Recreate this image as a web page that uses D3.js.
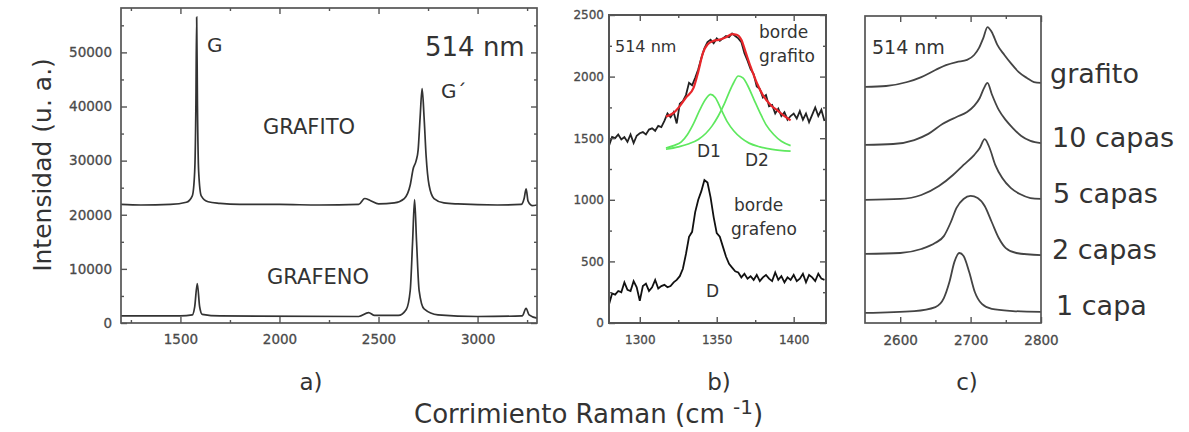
<!DOCTYPE html>
<html>
<head>
<meta charset="utf-8">
<script src="https://d3js.org/d3.v7.min.js"></script>
<style>
  body { margin: 0; background: #fff; }
  .lbl { font-family: "DejaVu Sans", sans-serif; fill: #333; }
</style>
</head>
<body>
<svg id="chart" width="1189" height="432"></svg>
<script>
// ---- panel a) espectro completo
var aXTicks = [1500, 2000, 2500, 3000];
var aXMinor = [1250, 1750, 2250, 2750, 3250];
var aYTicks = [0, 10000, 20000, 30000, 40000, 50000];
var aYMinor = [5000, 15000, 25000, 35000, 45000, 55000];
var aGrafito = [[1200, 21900], [1300, 21800], [1450, 21900], [1530, 22300], [1560, 23500], [1572, 28000], [1578, 40000],
  [1582, 56500], [1586, 40000], [1592, 28000], [1605, 23500], [1640, 22400], [1700, 22100], [1800, 21900], [2000, 21900],
  [2200, 21800], [2400, 21900], [2430, 23000], [2460, 22600], [2500, 22000], [2580, 22200], [2630, 23000], [2660, 25500],
  [2675, 28500], [2690, 30000], [2700, 32000], [2710, 38000], [2720, 43300], [2730, 38000], [2740, 31000], [2755, 25500],
  [2780, 23000], [2830, 22200], [2900, 22000], [3100, 21800], [3220, 21900], [3235, 23000], [3245, 24800], [3255, 22500],
  [3275, 21700], [3300, 21800]];
var aGrafeno = [[1200, 1300], [1500, 1300], [1560, 1500], [1572, 3000], [1585, 7300], [1597, 3000], [1610, 1600],
  [1700, 1300], [2400, 1200], [2450, 1900], [2480, 1400], [2600, 1400], [2640, 2500], [2660, 6000], [2672, 15000],
  [2682, 22800], [2692, 15000], [2705, 6000], [2730, 2600], [2800, 1500], [3000, 1200], [3225, 1300], [3245, 2700],
  [3260, 1500], [3300, 900]];

// ---- panel b) banda D
var bXTicks = [1300, 1350, 1400];
var bXMinor = [1325, 1375];
var bYTicks = [0, 500, 1000, 1500, 2000, 2500];
var bYMinor = [250, 750, 1250, 1750, 2250];
var bBordeGrafito = [[1280, 1440], [1282, 1510], [1284, 1500], [1286, 1530], [1288, 1490], [1290, 1510], [1292, 1470],
  [1294, 1530], [1296, 1460], [1298, 1520], [1300, 1540], [1302, 1550], [1304, 1530], [1306, 1570], [1308, 1580],
  [1310, 1560], [1312, 1600], [1314, 1590], [1316, 1640], [1318, 1700], [1320, 1670], [1322, 1710], [1324, 1620],
  [1326, 1780], [1328, 1800], [1330, 1850], [1332, 1950], [1334, 1930], [1336, 1990], [1338, 2060], [1340, 2150],
  [1342, 2230], [1344, 2280], [1346, 2300], [1348, 2270], [1350, 2310], [1352, 2290], [1354, 2310], [1356, 2330],
  [1358, 2320], [1360, 2350], [1362, 2330], [1364, 2310], [1366, 2280], [1368, 2190], [1370, 2130], [1372, 2060],
  [1374, 2020], [1376, 1920], [1378, 1900], [1380, 1830], [1382, 1850], [1384, 1760], [1386, 1770], [1388, 1700],
  [1390, 1740], [1392, 1680], [1394, 1710], [1396, 1650], [1398, 1680], [1400, 1700], [1402, 1660], [1404, 1720],
  [1406, 1650], [1408, 1700], [1410, 1630], [1412, 1690], [1414, 1750], [1416, 1680], [1418, 1730], [1420, 1640]];
var bAjuste = [[1317, 1675], [1322, 1705], [1326, 1760], [1330, 1830], [1335, 1910], [1338, 2040], [1341, 2190],
  [1344, 2260], [1348, 2290], [1352, 2300], [1356, 2320], [1360, 2345], [1363, 2340], [1366, 2300], [1369, 2190],
  [1372, 2080], [1376, 1950], [1380, 1850], [1385, 1770], [1390, 1720], [1394, 1680], [1398, 1645]];
var bD1 = [[1317, 1420], [1322, 1440], [1327, 1470], [1331, 1530], [1335, 1620], [1339, 1730], [1343, 1820],
  [1346, 1855], [1349, 1830], [1353, 1730], [1357, 1630], [1361, 1560], [1366, 1500], [1371, 1460], [1378, 1430],
  [1386, 1410], [1398, 1395]];
var bD2 = [[1317, 1410], [1325, 1430], [1332, 1455], [1338, 1490], [1343, 1540], [1347, 1600], [1351, 1680],
  [1355, 1780], [1358, 1870], [1361, 1950], [1364, 2005], [1367, 1990], [1370, 1930], [1374, 1820], [1378, 1710],
  [1382, 1610], [1387, 1530], [1392, 1475], [1398, 1440]];
var bBordeGrafeno = [[1280, 150], [1282, 240], [1284, 230], [1286, 260], [1288, 250], [1290, 330], [1292, 270],
  [1294, 260], [1296, 340], [1298, 290], [1300, 180], [1302, 300], [1304, 320], [1306, 260], [1308, 290], [1310, 350],
  [1312, 280], [1314, 300], [1316, 310], [1318, 290], [1320, 300], [1322, 330], [1324, 350], [1326, 380], [1328, 440],
  [1330, 560], [1332, 700], [1334, 740], [1336, 900], [1338, 1000], [1340, 1070], [1342, 1160], [1344, 1140],
  [1346, 1020], [1348, 860], [1350, 730], [1352, 700], [1354, 620], [1356, 540], [1358, 480], [1360, 450], [1362, 420],
  [1364, 410], [1366, 370], [1368, 400], [1370, 360], [1372, 380], [1374, 350], [1376, 390], [1378, 340], [1380, 370],
  [1382, 390], [1384, 360], [1386, 340], [1388, 410], [1390, 350], [1392, 380], [1394, 330], [1396, 370], [1398, 350],
  [1400, 390], [1402, 340], [1404, 360], [1406, 400], [1408, 330], [1410, 390], [1412, 370], [1414, 340], [1416, 400],
  [1418, 360], [1420, 350]];

// ---- panel c) banda G' segun numero de capas (unidades arbitrarias)
var cXTicks = [2600, 2700, 2800];
var cXMinor = [2650, 2750];
var cLabels = ["grafito", "10 capas", "5 capas", "2 capas", "1 capa"];
var cGrafito = [[2550, 7.69], [2580, 7.72], [2610, 7.85], [2630, 8.01], [2650, 8.24], [2665, 8.40], [2680, 8.50],
  [2695, 8.57], [2705, 8.73], [2712, 8.96], [2718, 9.28], [2724, 9.64], [2730, 9.48], [2738, 9.06], [2748, 8.73],
  [2758, 8.44], [2768, 8.18], [2780, 7.98], [2790, 7.85], [2800, 7.82]];
var c10 = [[2550, 5.80], [2590, 5.83], [2620, 5.96], [2640, 6.16], [2660, 6.48], [2680, 6.71], [2695, 6.87],
  [2705, 7.07], [2713, 7.33], [2719, 7.65], [2724, 7.82], [2730, 7.46], [2740, 6.94], [2750, 6.61], [2760, 6.35],
  [2772, 6.09], [2785, 5.93], [2800, 5.86]];
var c5 = [[2550, 4.01], [2600, 4.04], [2630, 4.17], [2655, 4.46], [2675, 4.82], [2690, 5.15], [2705, 5.47],
  [2713, 5.70], [2720, 5.99], [2727, 5.70], [2735, 5.15], [2745, 4.72], [2757, 4.40], [2770, 4.20], [2785, 4.07],
  [2800, 4.04]];
var c2 = [[2550, 2.25], [2600, 2.28], [2630, 2.41], [2650, 2.61], [2662, 2.83], [2672, 3.29], [2680, 3.75],
  [2690, 4.04], [2700, 4.14], [2710, 4.07], [2720, 3.81], [2730, 3.29], [2740, 2.77], [2750, 2.44], [2765, 2.28],
  [2800, 2.21]];
var c1 = [[2550, 0.33], [2620, 0.39], [2650, 0.52], [2662, 0.81], [2670, 1.34], [2677, 1.99], [2684, 2.28],
  [2690, 2.18], [2698, 1.66], [2706, 1.01], [2716, 0.62], [2730, 0.46], [2760, 0.39], [2800, 0.36]];

var svg = d3.select("#chart");

function marco(g, x, y, o) {
  var x0 = x.range()[0], x1 = x.range()[1], y0 = y.range()[0], y1 = y.range()[1];
  var fmt = d3.format("d");
  function estilo(a) {
    a.select(".domain").remove();
    a.attr("font-family", "DejaVu Sans").attr("font-size", o.fs).attr("color", "#555");
    a.selectAll("line").attr("stroke-width", 1.4);
    a.selectAll("text").attr("fill", "#4a4a4a").attr("stroke", "#4a4a4a").attr("stroke-width", 0.3);
  }
  // abajo
  g.append("g").attr("transform", "translate(0," + y0 + ")")
    .call(d3.axisBottom(x).tickValues(o.xMajor).tickSizeInner(-6).tickSizeOuter(0).tickPadding(o.xPad).tickFormat(fmt))
    .call(estilo);
  g.append("g").attr("transform", "translate(0," + y0 + ")")
    .call(d3.axisBottom(x).tickValues(o.xMinor).tickSizeInner(-3).tickSizeOuter(0).tickFormat(""))
    .call(estilo);
  // arriba
  g.append("g").attr("transform", "translate(0," + y1 + ")")
    .call(d3.axisTop(x).tickValues(o.xMajor).tickSizeInner(-6).tickSizeOuter(0).tickFormat(""))
    .call(estilo);
  g.append("g").attr("transform", "translate(0," + y1 + ")")
    .call(d3.axisTop(x).tickValues(o.xMinor).tickSizeInner(-3).tickSizeOuter(0).tickFormat(""))
    .call(estilo);
  if (o.yMajor) {
    g.append("g").attr("transform", "translate(" + x0 + ",0)")
      .call(d3.axisLeft(y).tickValues(o.yMajor).tickSizeInner(-6).tickSizeOuter(0).tickPadding(o.yPad).tickFormat(fmt))
      .call(estilo);
    g.append("g").attr("transform", "translate(" + x0 + ",0)")
      .call(d3.axisLeft(y).tickValues(o.yMinor).tickSizeInner(-3).tickSizeOuter(0).tickFormat(""))
      .call(estilo);
    g.append("g").attr("transform", "translate(" + x1 + ",0)")
      .call(d3.axisRight(y).tickValues(o.yMajor).tickSizeInner(-6).tickSizeOuter(0).tickFormat(""))
      .call(estilo);
    g.append("g").attr("transform", "translate(" + x1 + ",0)")
      .call(d3.axisRight(y).tickValues(o.yMinor).tickSizeInner(-3).tickSizeOuter(0).tickFormat(""))
      .call(estilo);
  }
  g.append("rect").attr("x", x0).attr("y", y1).attr("width", x1 - x0).attr("height", y0 - y1)
    .attr("fill", "none").attr("stroke", "#555").attr("stroke-width", o.sw);
}

function texto(x, y, s, size, anchor) {
  return svg.append("text").attr("class", "lbl").attr("x", x).attr("y", y)
    .attr("font-size", size).attr("text-anchor", anchor || "start").text(s);
}

// ===== a)
var xa = d3.scaleLinear().domain([1200, 3300]).range([121, 537]);
var ya = d3.scaleLinear().domain([0, 58200]).range([323, 8]);
var ga = svg.append("g");
var lineaA = d3.line().x(function (d) { return xa(d[0]); }).y(function (d) { return ya(d[1]); }).curve(d3.curveMonotoneX);
[aGrafito, aGrafeno].forEach(function (s) {
  ga.append("path").datum(s).attr("d", lineaA).attr("fill", "none").attr("stroke", "#333").attr("stroke-width", 1.7);
});
marco(ga, xa, ya, { xMajor: aXTicks, xMinor: aXMinor, yMajor: aYTicks, yMinor: aYMinor, xPad: 11, yPad: 9, fs: 13.5, sw: 1.7 });

texto(207, 52, "G", 20);
texto(441, 98, "G\u00B4", 20);
texto(309, 134, "GRAFITO", 21, "middle");
texto(318, 284, "GRAFENO", 21, "middle");
texto(425, 56, "514 nm", 26);
svg.append("text").attr("class", "lbl")
  .attr("transform", "translate(51,165) rotate(-90)")
  .attr("text-anchor", "middle").attr("font-size", 25).attr("fill", "#3a3a3a")
  .text("Intensidad (u. a.)");

// ===== b)
var xb = d3.scaleLinear().domain([1280, 1421]).range([609, 826]);
var yb = d3.scaleLinear().domain([0, 2500]).range([323, 15]);
var gb = svg.append("g");
var lineaB = d3.line().x(function (d) { return xb(d[0]); }).y(function (d) { return yb(d[1]); });
var lineaBs = d3.line().x(function (d) { return xb(d[0]); }).y(function (d) { return yb(d[1]); }).curve(d3.curveMonotoneX);
gb.append("path").datum(bBordeGrafito).attr("d", lineaB).attr("fill", "none").attr("stroke", "#222").attr("stroke-width", 1.8);
gb.append("path").datum(bAjuste).attr("d", lineaBs).attr("fill", "none").attr("stroke", "#e8262a").attr("stroke-width", 2.2);
gb.append("path").datum(bD1).attr("d", lineaBs).attr("fill", "none").attr("stroke", "#5ee85e").attr("stroke-width", 1.7);
gb.append("path").datum(bD2).attr("d", lineaBs).attr("fill", "none").attr("stroke", "#5ee85e").attr("stroke-width", 1.7);
gb.append("path").datum(bBordeGrafeno).attr("d", lineaB).attr("fill", "none").attr("stroke", "#111").attr("stroke-width", 1.8);
marco(gb, xb, yb, { xMajor: bXTicks, xMinor: bXMinor, yMajor: bYTicks, yMinor: bYMinor, xPad: 12, yPad: 5, fs: 12, sw: 2 });

texto(615, 52, "514 nm", 16);
texto(759, 38, "borde", 17);
texto(759, 62, "grafito", 17);
texto(697, 157, "D1", 17);
texto(745, 166, "D2", 17);
texto(734, 211, "borde", 17);
texto(731, 235, "grafeno", 17);
texto(706, 297, "D", 17);

// ===== c)
var xc = d3.scaleLinear().domain([2550, 2800]).range([865, 1041]);
var yc = d3.scaleLinear().domain([0, 10]).range([323, 16]);
var gc = svg.append("g");
var lineaC = d3.line().x(function (d) { return xc(d[0]); }).y(function (d) { return yc(d[1]); }).curve(d3.curveMonotoneX);
[cGrafito, c10, c5, c2, c1].forEach(function (s) {
  gc.append("path").datum(s).attr("d", lineaC).attr("fill", "none").attr("stroke", "#444").attr("stroke-width", 1.8);
});
marco(gc, xc, yc, { xMajor: cXTicks, xMinor: cXMinor, xPad: 12, fs: 13.5, sw: 1.7 });

texto(872, 54, "514 nm", 19);
var cPos = [[1050, 83], [1052, 147], [1053, 203], [1052, 259], [1056, 315]];
cLabels.forEach(function (s, i) { texto(cPos[i][0], cPos[i][1], s, 27); });

// ===== etiquetas inferiores
texto(311, 390, "a)", 23, "middle");
texto(719, 390, "b)", 23, "middle");
texto(967, 390, "c)", 23, "middle");
var t = svg.append("text").attr("class", "lbl").attr("x", 414).attr("y", 423).attr("font-size", 26);
t.append("tspan").text("Corrimiento Raman (cm ");
t.append("tspan").attr("dy", -9).attr("font-size", 20).text("-1");
t.append("tspan").attr("dy", 9).text(")");
</script>
</body>
</html>
